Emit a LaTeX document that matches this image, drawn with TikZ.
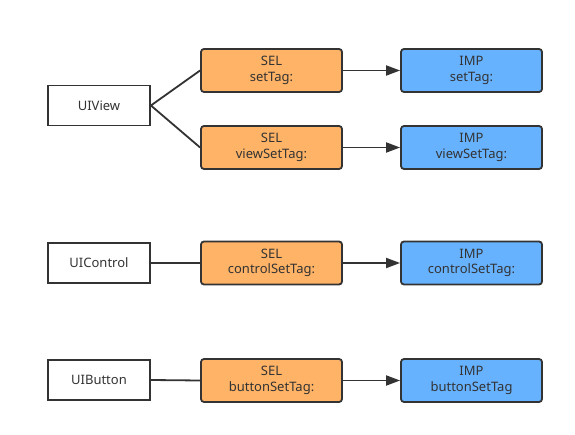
\documentclass[tikz,border=0pt]{standalone}
\usepackage{fontspec}
\setmainfont{Noto Sans}
\usetikzlibrary{arrows.meta}
\definecolor{selc}{HTML}{FFB366}
\definecolor{impc}{HTML}{66B2FF}
\definecolor{linec}{HTML}{333333}
\tikzset{
  base/.style={draw=linec, line width=1.8pt, minimum width=141pt, minimum height=43pt, inner sep=0pt, align=center, font=\fontsize{13}{15.5}\selectfont, text=linec},
  cls/.style={base, rounded corners=0pt, fill=white, minimum width=102pt, minimum height=40pt},
  sel/.style={base, rounded corners=3pt, fill=selc},
  imp/.style={base, rounded corners=3pt, fill=impc},
  conn/.style={draw=linec, line width=1.8pt},
  arr/.style={conn, -{Triangle[length=14pt,width=10pt]}}
}
\begin{document}
\begin{tikzpicture}[x=1pt,y=-1pt]
\useasboundingbox (0,0) rectangle (575,435);
\node[cls] (uiview) at (99,105.5) {UIView};
\node[sel] (sel1) at (271.5,70.5) {SEL\\setTag:};
\node[imp] (imp1) at (471.5,70.5) {IMP\\setTag:};
\node[sel] (sel2) at (271.5,147.5) {SEL\\viewSetTag:};
\node[imp] (imp2) at (471.5,147.5) {IMP\\viewSetTag:};
\node[cls] (uicontrol) at (99,263) {UIControl};
\node[sel] (sel3) at (271.5,263) {SEL\\controlSetTag:};
\node[imp] (imp3) at (471.5,263) {IMP\\controlSetTag:};
\node[cls] (uibutton) at (99,380) {UIButton};
\node[sel] (sel4) at (271.5,380.5) {SEL\\buttonSetTag:};
\node[imp] (imp4) at (471.5,380.5) {IMP\\buttonSetTag};
\draw[conn] (sel1.west) -- (uiview.east) -- (sel2.west);
\draw[conn] (uicontrol.east) -- (sel3.west);
\draw[conn] (uibutton.east) -- (sel4.west);
\draw[arr] (sel1) -- (imp1);
\draw[arr] (sel2) -- (imp2);
\draw[arr] (sel3) -- (imp3);
\draw[arr] (sel4) -- (imp4);
\end{tikzpicture}
\end{document}
